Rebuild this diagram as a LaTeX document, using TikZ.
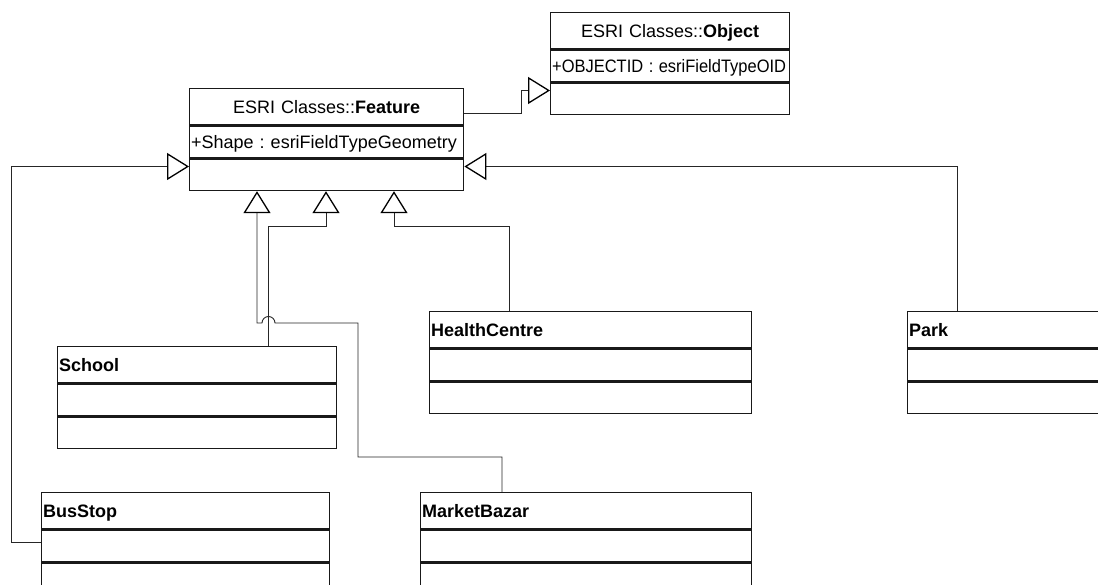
\documentclass[tikz,border=0pt]{standalone}
\usepackage{fontspec}
\usepackage{graphicx}
\setmainfont{Liberation Sans}
\usetikzlibrary{arrows.meta,calc}
\begin{document}
\begin{tikzpicture}[x=1pt,y=-1pt,
  box/.style={draw=black!90, line width=1.4pt, inner sep=0pt, inner xsep=1.5pt, anchor=north west,
    text height=12.9pt, text depth=0pt, align=left, font=\fontsize{18}{21}\selectfont\frenchspacing},
  hdr/.style={box, minimum height=36pt},
  att/.style={box, minimum height=32pt},
  ops/.style={box, minimum height=31pt},
  conn/.style={draw=black!85, line width=0.9pt},
  gen/.style={conn, -{Triangle[open, length=22pt, width=27pt, line width=1.3pt, color=black]}}
]
\useasboundingbox (0,0) rectangle (1098,585);
\clip (0,0) rectangle (1098,585);

% Object
\node[hdr, text width=236pt, align=center] (obj) at (550,12) {ESRI Classes::\textbf{Object}};
\node[att, text width=236pt] (obj-a) at (obj.south west) {\scalebox{0.915}[1]{+OBJECTID : esriFieldTypeOID}};
\node[ops, text width=236pt] (obj-o) at (obj-a.south west) {};

% Feature
\node[hdr, text width=271pt, align=center] (feat) at (189,88) {ESRI Classes::\textbf{Feature}};
\node[att, text width=271pt] (feat-a) at (feat.south west) {\mbox{+Shape : esriFieldTypeGeometry}};
\node[ops, text width=271pt] (feat-o) at (feat-a.south west) {};

% School
\node[hdr, text width=276pt] (school) at (57,346) {\textbf{School}};
\node[att, text width=276pt] (school-a) at (school.south west) {};
\node[ops, text width=276pt] (school-o) at (school-a.south west) {};

% HealthCentre
\node[hdr, text width=319pt] (hc) at (429,311) {\textbf{HealthCentre}};
\node[att, text width=319pt] (hc-a) at (hc.south west) {};
\node[ops, text width=319pt] (hc-o) at (hc-a.south west) {};

% Park
\node[hdr, text width=319pt] (park) at (907,311) {\textbf{Park}};
\node[att, text width=319pt] (park-a) at (park.south west) {};
\node[ops, text width=319pt] (park-o) at (park-a.south west) {};

% BusStop
\node[hdr, text width=285pt] (bus) at (41,492) {\textbf{BusStop}};
\node[att, text width=285pt] (bus-a) at (bus.south west) {};
\node[ops, text width=285pt] (bus-o) at (bus-a.south west) {};

% MarketBazar
\node[hdr, text width=328pt] (mb) at (420,492) {\textbf{MarketBazar}};
\node[att, text width=328pt] (mb-a) at (mb.south west) {};
\node[ops, text width=328pt] (mb-o) at (mb-a.south west) {};

% arrow target points on Feature
\coordinate (t1) at ([xshift=68pt]feat-o.south west);
\coordinate (t2) at ([xshift=137pt]feat-o.south west);
\coordinate (t3) at ([xshift=205pt]feat-o.south west);

% Feature -> Object
\draw[gen] ([yshift=-7pt]feat.east) -- ++(57,0) |- ([yshift=8.5pt]obj-o.west);

% BusStop -> Feature
\draw[gen] ([yshift=4pt]bus-a.west) -- ++(-30,0) |- ([yshift=8.5pt]feat-o.west);

% Park -> Feature
\draw[gen] ([xshift=50pt]park.north west) |- ([yshift=8.5pt]feat-o.east);

% HealthCentre -> Feature
\draw[gen] ([xshift=80pt]hc.north west) |- ($(t3)+(0,35)$) -- (t3);

% School -> Feature
\draw[gen] ([xshift=211pt]school.north west) |- ($(t2)+(0,35)$) -- (t2);

% MarketBazar -> Feature (with hop)
\draw[gen] ([xshift=82pt]mb.north west) -- ++(0,-35) -- ++(-144,0) -- ++(0,-134)
  -- ++(-83,0) arc (0:-180:6.5) -- (t1 |- 0,323) -- (t1);
\end{tikzpicture}
\end{document}
